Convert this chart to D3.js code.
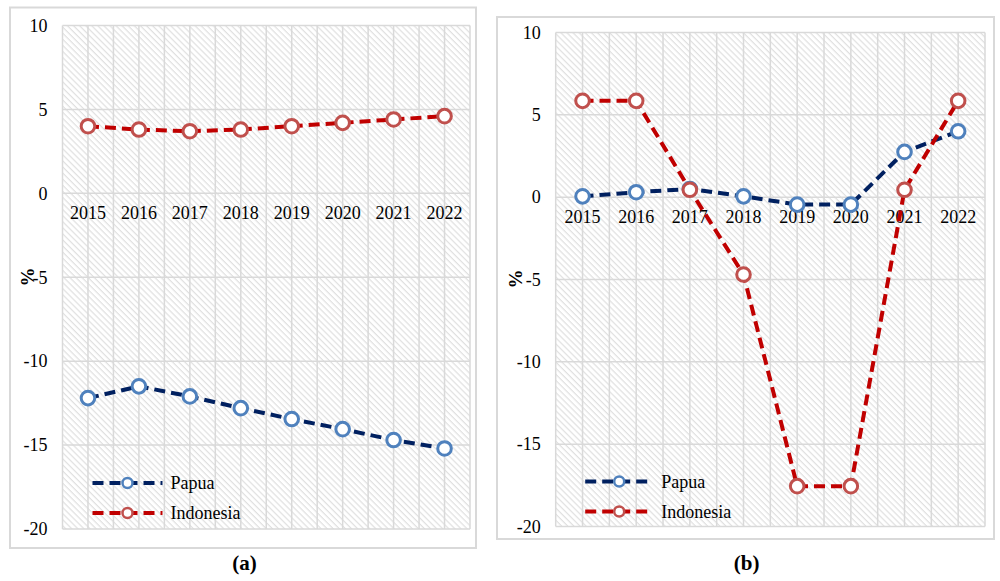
<!DOCTYPE html>
<html>
<head>
<meta charset="utf-8">
<script src="https://cdn.jsdelivr.net/npm/d3@7"></script>
<style>
  html, body { margin: 0; padding: 0; background: #fff; }
  svg { display: block; }
  svg text { font-family: "Liberation Serif", "Times New Roman", Times, "DejaVu Serif", serif !important; fill: #000; }
</style>
</head>
<body>
<svg id="chart" width="1000" height="581"></svg>
<script>
// ---- Data ----
const years = ["2015", "2016", "2017", "2018", "2019", "2020", "2021", "2022"];
const yTicks = [10, 5, 0, -5, -10, -15, -20];
const yTickLabels = ["10", "5", "0", "-5", "-10", "-15", "-20"];
const seriesNames = ["Papua", "Indonesia"];

// Panel (a)
const papuaA = [-12.2, -11.5, -12.1, -12.8, -13.45, -14.05, -14.7, -15.2];
const indonesiaA = [4.0, 3.8, 3.7, 3.8, 4.0, 4.2, 4.4, 4.6];

// Panel (b)
const papuaB = [0.05, 0.3, 0.5, 0.05, -0.45, -0.45, 2.75, 4.0];
const indonesiaB = [5.85, 5.85, 0.45, -4.7, -17.55, -17.55, 0.45, 5.85];

const captions = ["(a)", "(b)"];

// ---- Styles ----
const lineColors = ["#002060", "#C00000"];
const markerColors = ["#4F81BD", "#C0504D"];
const gridColor = "#d9d9d9";
const FONT = '"Liberation Serif", "Times New Roman", Times, "DejaVu Serif", serif';

const svg = d3.select("#chart");
const defs = svg.append("defs");
const pat = defs.append("pattern")
  .attr("id", "hatch")
  .attr("patternUnits", "userSpaceOnUse")
  .attr("width", 10).attr("height", 4.3)
  .attr("patternTransform", "rotate(45)");
pat.append("rect").attr("x", 0).attr("y", 0).attr("width", 10).attr("height", 4.3).attr("fill", "#fff");
pat.append("rect").attr("x", 0).attr("y", 0).attr("width", 10).attr("height", 1.2).attr("fill", "#e0e0e0");

function drawPanel(cfg) {
  const g = svg.append("g");
  g.append("rect")
    .attr("x", cfg.frame[0]).attr("y", cfg.frame[1])
    .attr("width", cfg.frame[2] - cfg.frame[0]).attr("height", cfg.frame[3] - cfg.frame[1])
    .attr("fill", "#fff").attr("stroke", gridColor).attr("stroke-width", 2);

  const x = d3.scaleBand().domain(years).range([cfg.left, cfg.right]);
  const y = d3.scaleLinear().domain([-20, 10]).range([cfg.bottom, cfg.top]);

  g.append("rect")
    .attr("x", cfg.left).attr("y", cfg.top)
    .attr("width", cfg.right - cfg.left).attr("height", cfg.bottom - cfg.top)
    .attr("fill", "url(#hatch)");

  const vLines = [];
  years.forEach(yr => { vLines.push(x(yr)); vLines.push(x(yr) + x.bandwidth() / 2); });
  vLines.push(cfg.right);
  g.selectAll(".vgrid").data(vLines).enter().append("line")
    .attr("x1", d => d).attr("x2", d => d)
    .attr("y1", cfg.top).attr("y2", cfg.bottom)
    .attr("stroke", gridColor).attr("stroke-width", 1.5);

  g.selectAll(".hgrid").data(yTicks).enter().append("line")
    .attr("x1", cfg.left).attr("x2", cfg.right)
    .attr("y1", d => y(d)).attr("y2", d => y(d))
    .attr("stroke", gridColor).attr("stroke-width", 1.5);

  const yAxis = d3.axisLeft(y).tickValues(yTicks).tickSize(0).tickPadding(15)
    .tickFormat((d, i) => yTickLabels[i]);
  const ya = g.append("g").attr("transform", `translate(${cfg.left},0)`).call(yAxis)
    .attr("font-family", FONT).attr("font-size", 18);
  ya.select(".domain").remove();
  ya.selectAll("text").attr("fill", "#000");

  const xAxis = d3.axisBottom(x).tickSize(0).tickPadding(13);
  const xa = g.append("g").attr("transform", `translate(0,${y(0)})`).call(xAxis)
    .attr("font-family", FONT).attr("font-size", 18);
  xa.select(".domain").remove();
  xa.selectAll("text").attr("fill", "#000");

  g.append("text")
    .attr("transform", `translate(${cfg.titleX},${cfg.titleY}) rotate(-90)`)
    .attr("text-anchor", "middle").attr("dy", "0.35em")
    .attr("font-family", FONT)
    .attr("font-size", 19).attr("font-weight", "bold")
    .text("%");

  const cx = d => x(d) + x.bandwidth() / 2;
  const line = d3.line().x((d, i) => cx(years[i])).y(d => y(d));

  cfg.series.forEach((vals, si) => {
    g.append("path").datum(vals)
      .attr("d", line)
      .attr("fill", "none")
      .attr("stroke", lineColors[si]).attr("stroke-width", 4)
      .attr("stroke-dasharray", "11,6");
  });
  cfg.series.forEach((vals, si) => {
    g.selectAll(".m" + si).data(vals).enter().append("circle")
      .attr("cx", (d, i) => cx(years[i])).attr("cy", d => y(d))
      .attr("r", 6.8)
      .attr("fill", "#fff")
      .attr("stroke", markerColors[si]).attr("stroke-width", 3);
  });

  seriesNames.forEach((name, si) => {
    const ly = cfg.bottom + cfg.legendDy[si];
    const lx0 = cfg.left + cfg.legendDx;
    const lx1 = lx0 + cfg.legendW;
    g.append("line")
      .attr("x1", lx0).attr("x2", lx1).attr("y1", ly).attr("y2", ly)
      .attr("stroke", lineColors[si]).attr("stroke-width", 4)
      .attr("stroke-dasharray", "11,6");
    g.append("circle")
      .attr("cx", (lx0 + lx1) / 2).attr("cy", ly).attr("r", 5)
      .attr("fill", "#fff").attr("stroke", markerColors[si]).attr("stroke-width", 2.5);
    g.append("text")
      .attr("x", lx1 + 8).attr("y", ly).attr("dy", "0.35em")
      .attr("font-family", FONT)
      .attr("font-size", 18)
      .text(name);
  });

  g.append("text")
    .attr("x", cfg.capX).attr("y", cfg.capY)
    .attr("text-anchor", "middle")
    .attr("font-family", FONT)
    .attr("font-size", 21).attr("font-weight", "bold")
    .text(cfg.caption);
}

drawPanel({
  frame: [10, 7.5, 476, 548],
  left: 62.5, right: 470, top: 25.5, bottom: 529,
  titleX: 27, titleY: 277,
  series: [papuaA, indonesiaA],
  legendDx: 30, legendW: 70, legendDy: [-46, -16],
  capX: 244.5, capY: 570,
  caption: captions[0]
});

drawPanel({
  frame: [497, 17, 994, 539],
  left: 555.7, right: 985, top: 32.5, bottom: 526.5,
  titleX: 515, titleY: 279,
  series: [papuaB, indonesiaB],
  legendDx: 29.5, legendW: 68, legendDy: [-45, -15],
  capX: 746.7, capY: 570,
  caption: captions[1]
});
</script>
</body>
</html>
